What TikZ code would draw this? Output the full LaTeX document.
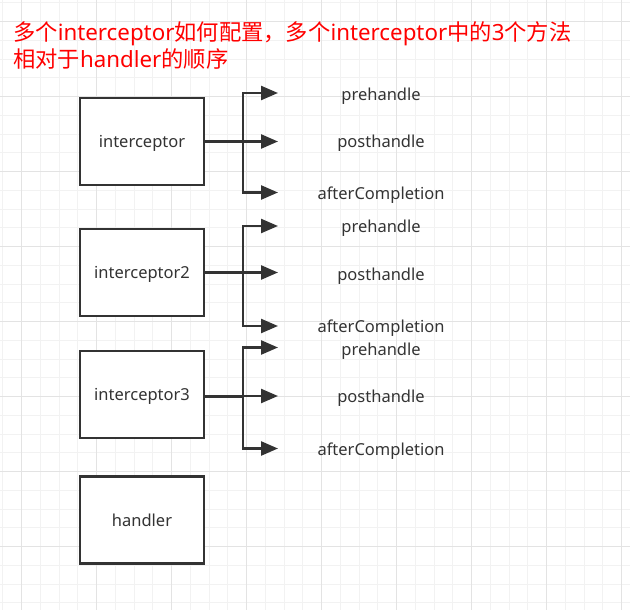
\documentclass[tikz,border=0pt]{standalone}
\usepackage{fontspec}
\setmainfont{Noto Sans}
\newfontfamily\cjk{Noto Sans CJK SC}
\usetikzlibrary{arrows.meta}

\definecolor{gridminor}{HTML}{F2F2F2}
\definecolor{gridmajor}{HTML}{E3E3E3}
\definecolor{inkgray}{HTML}{333333}
\tikzset{
  box/.style={draw=inkgray, line width=2.4pt, fill=white, minimum width=124pt, minimum height=87pt, inner sep=0pt, text depth=0pt, text=inkgray, font=\fontsize{16.5}{19}\selectfont},
  method/.style={text=inkgray, inner sep=0pt, text depth=0pt, font=\fontsize{16.5}{19}\selectfont},
  feed/.style={draw=inkgray, line width=3pt},
  branch/.style={draw=inkgray, line width=2.4pt, -{Triangle[length=17pt,width=14pt]}},
  title/.style={anchor=base west, inner sep=0pt, text=red, font=\fontsize{22.3}{26}\selectfont}
}

\begin{document}
\begin{tikzpicture}[x=1pt, y=-1pt]
	\useasboundingbox (0,0) rectangle (630,610);
	% grid
	\foreach \k in {0,...,33} \draw[gridminor, line width=1pt] ({2.95+18.75*\k},0) -- ({2.95+18.75*\k},610);
	\foreach \k in {0,...,32} \draw[gridminor, line width=1pt] (0,{2.95+18.75*\k}) -- (630,{2.95+18.75*\k});
	\foreach \k in {0,...,8} \draw[gridmajor, line width=1pt] ({21.7+75*\k},0) -- ({21.7+75*\k},610);
	\foreach \k in {0,...,7} \draw[gridmajor, line width=1pt] (0,{21.7+75*\k}) -- (630,{21.7+75*\k});

	\node[title] (title1) at (13,41) {{\cjk 多个}interceptor{\cjk 如何配置，多个}interceptor{\cjk 中的}3{\cjk 个方法}};
	\node[title] (title2) at (13,68) {{\cjk 相对于}handler{\cjk 的顺序}};

	\node[box] (icp1) at (142,141.5) {interceptor};
	\node[box] (icp2) at (142,272.5) {interceptor2};
	\node[box] (icp3) at (142,394.5) {interceptor3};
	\node[box] (hdl) at (142,520) {handler};

	\coordinate (j1) at (243,141.5);
	\coordinate (j2) at (243,272.5);
	\coordinate (j3) at (243,396);

	\coordinate (e1a) at (278,93);
	\coordinate (e1b) at (278,141.5);
	\coordinate (e1c) at (278,192.5);
	\coordinate (e2a) at (278,226);
	\coordinate (e2b) at (278,272.5);
	\coordinate (e2c) at (278,326);
	\coordinate (e3a) at (278,347.5);
	\coordinate (e3b) at (278,396);
	\coordinate (e3c) at (278,448.5);

	\draw[feed] (icp1.east |- j1) -- (j1);
	\draw[branch] (j1) |- (e1a);
	\draw[branch] (j1) -- (e1b);
	\draw[branch] (j1) |- (e1c);

	\draw[feed] (icp2.east |- j2) -- (j2);
	\draw[branch] (j2) |- (e2a);
	\draw[branch] (j2) -- (e2b);
	\draw[branch] (j2) |- (e2c);

	\draw[feed] (icp3.east |- j3) -- (j3);
	\draw[branch] (j3) |- (e3a);
	\draw[branch] (j3) -- (e3b);
	\draw[branch] (j3) |- (e3c);

	\node[method] (pre1) at (381,94) {prehandle};
	\node[method] (post1) at (381,141) {posthandle};
	\node[method] (after1) at (381,193) {afterCompletion};
	\node[method] (pre2) at (381,226) {prehandle};
	\node[method] (post2) at (381,274) {posthandle};
	\node[method] (after2) at (381,326) {afterCompletion};
	\node[method] (pre3) at (381,349) {prehandle};
	\node[method] (post3) at (381,396) {posthandle};
	\node[method] (after3) at (381,449) {afterCompletion};
\end{tikzpicture}
\end{document}
